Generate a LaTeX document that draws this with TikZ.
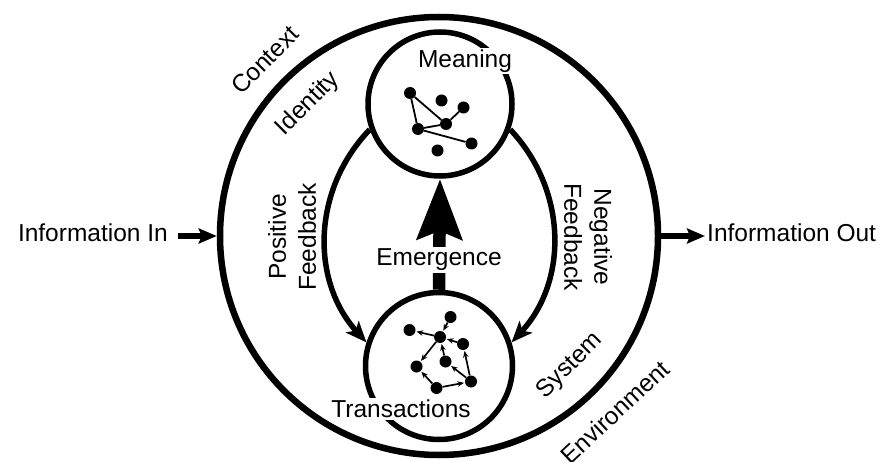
\documentclass[tikz,border=0pt]{standalone}
\usepackage{fontspec}
\setmainfont{Liberation Sans}
\usetikzlibrary{arrows.meta}
\begin{document}
\begin{tikzpicture}[x=1pt,y=1pt,
  lbl/.style={font=\fontsize{24.5}{30}\selectfont, inner sep=2pt},
  wlbl/.style={lbl, fill=white},
  ring/.style={draw, circle, inner sep=0pt},
  dot/.style={circle, fill=black, inner sep=0pt, minimum size=12pt},
  link/.style={line width=1.8pt},
  flow/.style={line width=1.7pt, -{Stealth[length=6.5pt,width=5.5pt]}, shorten >=1pt},
  fb/.style={line width=5.5pt, -{Stealth[length=21pt,width=17pt,inset=5pt]}},
  io/.style={line width=5.5pt, -{Stealth[length=18pt,width=15pt,inset=3pt]}},
  emerg/.style={line width=12.5pt, -{Stealth[length=60pt,width=44pt,inset=8pt]}}]
\useasboundingbox (0,0) rectangle (885,461);

% circles
\node[ring, line width=6.5pt, minimum size=438pt] (sys) at (439,225) {};
\node[ring, line width=5.5pt, minimum size=144pt] (mc) at (440,357) {};
\node[ring, line width=5.5pt, minimum size=147pt] (tc) at (439,95) {};

% feedback arcs
\draw[fb] (mc.200) to[bend right=43] (tc.162);
\draw[fb] (mc.340) to[bend left=43] (tc.18);

% emergence arrow
\draw[emerg] (tc.north) -- (mc.south);

% meaning network
\node[dot] (a) at (410,368) {};
\node[dot] (b) at (441.5,360.5) {};
\node[dot] (c) at (463.5,353.5) {};
\node[dot] (d) at (446,337) {};
\node[dot] (e) at (418,332) {};
\node[dot] (f) at (471.5,317.5) {};
\node[dot] (g) at (437.5,310.5) {};
\draw[link] (a) -- (e);
\draw[link] (a) -- (d);
\draw[link] (c) -- (d);
\draw[link] (e) -- (d);
\draw[link] (e) -- (f);

% transactions network
\node[dot] (p1) at (409.5,131) {};
\node[dot] (p2) at (450.5,144) {};
\node[dot] (p3) at (440,124) {};
\node[dot] (p4) at (463,117) {};
\node[dot] (p5) at (416.5,94.5) {};
\node[dot] (p6) at (445.5,99.5) {};
\node[dot] (p7) at (436.5,73) {};
\node[dot] (p8) at (471,79.5) {};
\draw[flow] (p3) -- (p1);
\draw[flow] (p2) -- (p3);
\draw[flow] (p4) -- (p3);
\draw[flow] (p3) -- (p5);
\draw[flow] (p6) -- (p3);
\draw[flow] (p8) -- (p4);
\draw[flow] (p8) -- (p6);
\draw[flow] (p7) -- (p5);
\draw[flow] (p7) -- (p8);

% labels on white
\node[wlbl] (meaning) at (465,400) {Meaning};
\node[wlbl] (trans) at (401,52) {Transactions};
\node[wlbl] (emergence) at (439,201) {Emergence};

% rotated labels
\node[lbl, rotate=45] (context) at (265,401) {Context};
\node[lbl, rotate=45] (identity) at (308,357) {Identity};
\node[lbl, rotate=45] (system) at (570,95) {System};
\node[lbl, rotate=43] (environment) at (615,49) {Environment};
\node[lbl, rotate=90, align=center] (pos) at (292,224) {Positive\\Feedback};
\node[lbl, rotate=-90, align=center] (neg) at (588,224) {Negative\\Feedback};

% information in / out
\node[lbl, anchor=east] (inl) at (170,228) {Information In};
\node[lbl, anchor=west] (outl) at (705,228) {Information Out};
\draw[io, shorten <=8pt] (inl.east |- sys.west) -- (sys.west);
\draw[io] (sys.east) -- (outl.west |- sys.east);
\end{tikzpicture}
\end{document}
